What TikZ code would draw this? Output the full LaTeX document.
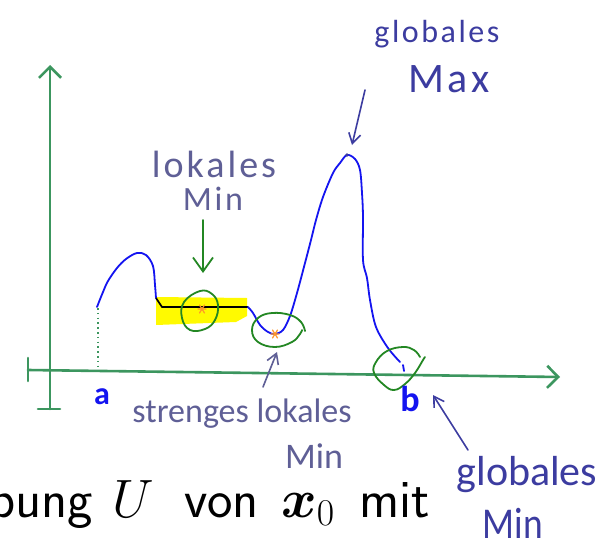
\RequirePackage{fix-cm}
\documentclass[tikz,border=0pt]{standalone}
\usepackage{fontspec}
\usepackage{bm}
\usetikzlibrary{arrows.meta}
\newfontfamily\hand[LetterSpace=8]{Carlito}
\newfontfamily\handtight{Carlito}
\definecolor{axisgreen}{RGB}{60,150,95}
\definecolor{circgreen}{RGB}{35,135,35}
\definecolor{curveblue}{RGB}{20,20,240}
\definecolor{handgray}{RGB}{95,95,150}
\definecolor{handblue}{RGB}{60,60,160}
\definecolor{hilite}{RGB}{255,250,0}
\definecolor{starorange}{RGB}{255,150,40}
\tikzset{
  axisline/.style={draw=axisgreen, line width=2.6pt, line cap=round},
  axisarrow/.style={axisline, -{Straight Barb[length=11pt,width=22pt]}},
  curveline/.style={draw=curveblue, line width=1.8pt, line cap=round, line join=round},
  circline/.style={draw=circgreen, line width=1.8pt, line cap=round, line join=round},
  handarrow/.style={line width=1.6pt, line cap=round, -{Straight Barb[length=10pt,width=12pt]}},
  starline/.style={draw=starorange, line width=1.2pt, line cap=round},
  handtext/.style={inner sep=0pt, text=handgray},
}
\begin{document}
\begin{tikzpicture}[x=1pt,y=-1pt]
\useasboundingbox (0,0) rectangle (607,551);
\fill[white] (0,0) rectangle (607,551);

% highlight
\fill[hilite] (156,297) -- (247,298) -- (247,316) -- (236,322) -- (156,325) -- cycle;

% axes
\coordinate (yb) at (50,409);
\coordinate (yt) at (50,65);
\draw[axisarrow] (yb) -- (yt);
\draw[axisline] (38,409) -- (60,409);
\coordinate (xl) at (28,370);
\coordinate (xr) at (560,377);
\draw[axisarrow] (xl) -- (xr);
\draw[axisline] (28,358) -- (28,381);
\draw[draw=axisgreen, line width=1.8pt, dash pattern=on 1.6pt off 3.2pt] (98,308) -- (98,366);

% curve
\draw[curveline] plot[smooth, tension=0.55] coordinates {(97,307) (103,292) (108,281) (117,268) (126,259) (137,253) (146,255) (153,266) (155,285) (156,298)};
\draw[black, line width=1.8pt, line join=round] (156,298) -- (162,307) -- (248,307);
\draw[curveline] plot[smooth, tension=0.55] coordinates {(248,307) (253,313) (260,325) (268,332) (275,334) (283,330) (290,316) (297,293) (305,263) (311,240) (316,220) (323,197) (333,173) (340,163) (347,155) (355,159) (360,170) (362,193) (363,217) (363,260) (367,278) (370,300) (376,327) (388,348) (400,362)};
\draw[curveline] (403,365) -- (404,371);
\fill[handblue] (347,155) circle (1.8pt);

% stars
\foreach \px/\py in {202/309,275/334} {
  \draw[starline] (\px-4,\py) -- (\px+4,\py) (\px-2.5,\py-4) -- (\px+2.5,\py+4) (\px+2.5,\py-4) -- (\px-2.5,\py+4);
}

% circles
\draw[circline] plot[smooth cycle, tension=0.7] coordinates {(200,291) (212,294) (218,305) (215,320) (205,329) (190,330) (182,318) (184,302)};
\draw[circline] plot[smooth, tension=0.7] coordinates {(305,331) (301,322) (290,315) (272,313) (258,318) (252,330) (258,342) (275,347) (292,342) (300,334) (302,330)};
\draw[circline] plot[smooth, tension=0.7] coordinates {(420,357) (414,350) (403,347) (387,351) (376,362) (374,373) (384,385) (394,390) (405,384) (415,373) (423,360) (425,357)};

% arrows
\coordinate (gmaxS) at (365,90);
\coordinate (gmaxE) at (352,145);
\draw[handarrow, handblue] (gmaxS) -- (gmaxE);
\coordinate (lminS) at (203,220);
\coordinate (lminE) at (203,273);
\draw[line width=1.8pt, line cap=round, circgreen, -{Straight Barb[length=14pt,width=20pt]}] (lminS) -- (lminE);
\coordinate (sminS) at (263,387);
\coordinate (sminE) at (277,352);
\draw[handarrow, handgray] (sminS) -- (sminE);
\coordinate (gminS) at (468,450);
\coordinate (gminE) at (433,395);
\draw[handarrow, handblue] (gminS) -- (gminE);

% labels
\node[handtext, text=handblue, font=\hand\fontsize{32}{36}\selectfont, anchor=base] (tglob) at (437,42) {globales};
\node[handtext, text=handblue, font=\hand\fontsize{42}{46}\selectfont, anchor=base] (tmax) at (449,92) {Max};
\node[handtext, font=\hand\fontsize{38}{42}\selectfont, anchor=base] (tlok) at (214,177) {lokales};
\node[handtext, font=\hand\fontsize{34}{38}\selectfont, anchor=base] (tlmin) at (213,210) {Min};
\node[handtext, font=\handtight\fontsize{34}{38}\selectfont, anchor=base] (tstr) at (242,422) {strenges lokales};
\node[handtext, font=\handtight\fontsize{36}{40}\selectfont, anchor=base] (tsmin) at (314,468) {Min};
\node[handtext, text=handblue, font=\handtight\fontsize{42}{46}\selectfont, anchor=base] (tgmin) at (527,485) {globales};
\node[handtext, text=handblue, font=\handtight\fontsize{44}{48}\selectfont, anchor=base] (tgminb) at (513,538) {\scalebox{0.85}[1]{Min}};
\node[inner sep=0pt, text=curveblue, font=\handtight\bfseries\fontsize{32}{36}\selectfont, anchor=base] (ta) at (102,404) {a};
\node[inner sep=0pt, text=curveblue, font=\handtight\bfseries\fontsize{36}{40}\selectfont, anchor=base] (tb) at (410,411) {b};

% slide text
\node[inner sep=0pt, anchor=base west, font=\sffamily\fontsize{54}{64}\selectfont] (slide) at (-11,517) {\makebox[123pt][l]{bung}\makebox[72pt][l]{$U$}\makebox[97pt][l]{von}\makebox[78pt][l]{$\bm{x}_0$}mit};
\end{tikzpicture}
\end{document}
